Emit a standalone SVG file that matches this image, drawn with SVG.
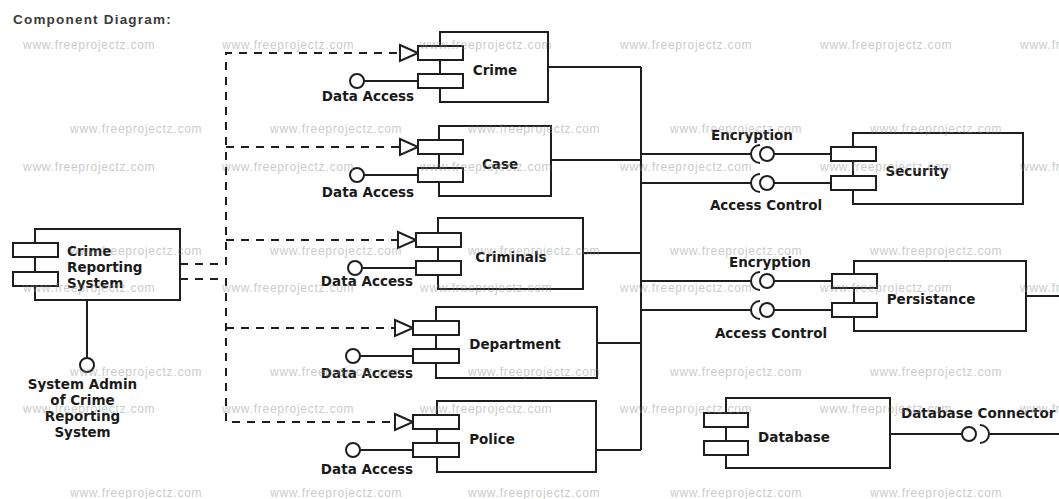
<svg xmlns="http://www.w3.org/2000/svg" width="1059" height="499" viewBox="0 0 1059 499">
<style>
.bx{fill:#fff;stroke:#1e1e1e;stroke-width:2}
.pt{fill:#fff;stroke:#1e1e1e;stroke-width:2}
.ln{fill:none;stroke:#1e1e1e;stroke-width:2}
.ds{fill:none;stroke:#1e1e1e;stroke-width:2;stroke-dasharray:8 7}
.ball{fill:#fff;stroke:#1e1e1e;stroke-width:2}
.lb{font-family:"DejaVu Sans",sans-serif;font-weight:bold;font-size:13.5px;fill:#1a1a1a}
.mid{text-anchor:middle}
.title{font-family:"Liberation Sans",Arial,sans-serif;font-weight:bold;font-size:13.5px;letter-spacing:1.2px;fill:#3a3a3a}
.wm{font-family:"Liberation Sans",Arial,sans-serif;font-size:12px;letter-spacing:0.75px;fill:#8c8c8c;opacity:0.45}
</style>
<rect width="1059" height="499" fill="#fff"/>
<text class="title" x="13" y="24">Component Diagram:</text>

<g id="connectors">
  <path class="ds" d="M180,264 H226 V53 H400"/>
  <path class="ds" d="M226,147 H400"/>
  <path class="ds" d="M226,240 H398"/>
  <path class="ds" d="M180,279 H226 V422 H395"/>
  <path class="ds" d="M226,328 H395"/>
  <path class="ln" d="M87,300 V358"/>
  <path class="ln" d="M364,81 H418 M364,175 H418 M362,268 H416 M360,356 H413 M360,450 H413"/>
  <path class="ln" d="M548,67 H641 M551,160 H641 M583,253 H641 M597,343 H641 M596,450 H641 M641,67 V450"/>
  <path class="ln" d="M641,154 H751 M774,154 H831 M641,183 H751 M774,183 H831"/>
  <path class="ln" d="M641,281 H751 M774,281 H832 M641,310 H751 M774,310 H832"/>
  <path class="ln" d="M1026,296 H1059"/>
  <path class="ln" d="M890,434 H962 M989,434 H1059"/>
  <path class="ln" d="M760,145 A9,9 0 0 0 760,163 M760,174 A9,9 0 0 0 760,192 M760,272 A9,9 0 0 0 760,290 M760,301 A9,9 0 0 0 760,319 M980,425 A9,9 0 0 1 980,443"/>
  <circle class="ball" cx="87" cy="365" r="7"/>
  <circle class="ball" cx="357" cy="81" r="7"/>
  <circle class="ball" cx="357" cy="175" r="7"/>
  <circle class="ball" cx="355" cy="268" r="7"/>
  <circle class="ball" cx="353" cy="356" r="7"/>
  <circle class="ball" cx="353" cy="450" r="7"/>
  <circle class="ball" cx="767" cy="154" r="7"/>
  <circle class="ball" cx="767" cy="183" r="7"/>
  <circle class="ball" cx="767" cy="281" r="7"/>
  <circle class="ball" cx="767" cy="310" r="7"/>
  <circle class="ball" cx="969" cy="434" r="7"/>
  <path class="pt" d="M400,45 L418,53 L400,61 Z"/>
  <path class="pt" d="M400,139 L418,147 L400,155 Z"/>
  <path class="pt" d="M398,232 L416,240 L398,248 Z"/>
  <path class="pt" d="M395,320 L413,328 L395,336 Z"/>
  <path class="pt" d="M395,414 L413,422 L395,430 Z"/>
  <text class="lb mid" x="368" y="101">Data Access</text>
  <text class="lb mid" x="368" y="197">Data Access</text>
  <text class="lb mid" x="367" y="286">Data Access</text>
  <text class="lb mid" x="367" y="378">Data Access</text>
  <text class="lb mid" x="367" y="474">Data Access</text>
  <text class="lb mid" x="752" y="140">Encryption</text>
  <text class="lb mid" x="766" y="210">Access Control</text>
  <text class="lb mid" x="770" y="267">Encryption</text>
  <text class="lb mid" x="771" y="338">Access Control</text>
  <text class="lb" x="901" y="418">Database Connector</text>
  <text class="lb mid" x="82.5" y="389">System Admin</text>
  <text class="lb mid" x="82.5" y="405">of Crime</text>
  <text class="lb mid" x="82.5" y="421">Reporting</text>
  <text class="lb mid" x="82.5" y="437">System</text>
</g>

<g id="crime-reporting-system">
  <rect class="bx" x="35" y="229" width="145" height="71"/>
  <rect class="pt" x="13" y="243" width="45" height="14"/>
  <rect class="pt" x="13" y="272" width="45" height="14"/>
  <text class="lb" x="67" y="256">Crime</text>
  <text class="lb" x="67" y="272">Reporting</text>
  <text class="lb" x="67" y="288">System</text>
</g>

<g id="crime">
  <rect class="bx" x="440" y="32" width="108" height="70"/>
  <rect class="pt" x="418" y="46" width="45" height="14"/>
  <rect class="pt" x="418" y="74" width="45" height="14"/>
  <text class="lb mid" x="495" y="75">Crime</text>
</g>

<g id="case">
  <rect class="bx" x="439" y="126" width="112" height="70"/>
  <rect class="pt" x="418" y="140" width="45" height="14"/>
  <rect class="pt" x="418" y="168" width="45" height="14"/>
  <text class="lb mid" x="500" y="169">Case</text>
</g>

<g id="criminals">
  <rect class="bx" x="438" y="218" width="145" height="71"/>
  <rect class="pt" x="416" y="233" width="45" height="14"/>
  <rect class="pt" x="416" y="261" width="45" height="14"/>
  <text class="lb mid" x="511" y="262">Criminals</text>
</g>

<g id="department">
  <rect class="bx" x="436" y="307" width="161" height="71"/>
  <rect class="pt" x="413" y="321" width="46" height="14"/>
  <rect class="pt" x="413" y="349" width="46" height="14"/>
  <text class="lb mid" x="515" y="349">Department</text>
</g>

<g id="police">
  <rect class="bx" x="437" y="401" width="159" height="71"/>
  <rect class="pt" x="413" y="415" width="46" height="14"/>
  <rect class="pt" x="413" y="443" width="46" height="14"/>
  <text class="lb mid" x="492" y="444">Police</text>
</g>

<g id="security">
  <rect class="bx" x="853" y="133" width="170" height="71"/>
  <rect class="pt" x="831" y="147" width="45" height="14"/>
  <rect class="pt" x="831" y="176" width="45" height="14"/>
  <text class="lb mid" x="917" y="176">Security</text>
</g>

<g id="persistance">
  <rect class="bx" x="854" y="261" width="172" height="70"/>
  <rect class="pt" x="832" y="274" width="45" height="14"/>
  <rect class="pt" x="832" y="303" width="45" height="14"/>
  <text class="lb mid" x="931" y="304">Persistance</text>
</g>

<g id="database">
  <rect class="bx" x="726" y="398" width="164" height="70"/>
  <rect class="pt" x="704" y="413" width="44" height="14"/>
  <rect class="pt" x="704" y="441" width="44" height="14"/>
  <text class="lb mid" x="794" y="442">Database</text>
</g>

<g id="watermarks">
  <text class="wm" x="23" y="49">www.freeprojectz.com</text>
  <text class="wm" x="222" y="49">www.freeprojectz.com</text>
  <text class="wm" x="420" y="49">www.freeprojectz.com</text>
  <text class="wm" x="620" y="49">www.freeprojectz.com</text>
  <text class="wm" x="820" y="49">www.freeprojectz.com</text>
  <text class="wm" x="1020" y="49">www.freeprojectz.com</text>
  <text class="wm" x="70" y="133">www.freeprojectz.com</text>
  <text class="wm" x="270" y="133">www.freeprojectz.com</text>
  <text class="wm" x="468" y="133">www.freeprojectz.com</text>
  <text class="wm" x="670" y="133">www.freeprojectz.com</text>
  <text class="wm" x="870" y="133">www.freeprojectz.com</text>
  <text class="wm" x="23" y="171">www.freeprojectz.com</text>
  <text class="wm" x="222" y="171">www.freeprojectz.com</text>
  <text class="wm" x="420" y="171">www.freeprojectz.com</text>
  <text class="wm" x="620" y="171">www.freeprojectz.com</text>
  <text class="wm" x="820" y="171">www.freeprojectz.com</text>
  <text class="wm" x="1020" y="171">www.freeprojectz.com</text>
  <text class="wm" x="70" y="255">www.freeprojectz.com</text>
  <text class="wm" x="270" y="255">www.freeprojectz.com</text>
  <text class="wm" x="468" y="255">www.freeprojectz.com</text>
  <text class="wm" x="670" y="255">www.freeprojectz.com</text>
  <text class="wm" x="870" y="255">www.freeprojectz.com</text>
  <text class="wm" x="23" y="292">www.freeprojectz.com</text>
  <text class="wm" x="222" y="292">www.freeprojectz.com</text>
  <text class="wm" x="420" y="292">www.freeprojectz.com</text>
  <text class="wm" x="620" y="292">www.freeprojectz.com</text>
  <text class="wm" x="820" y="292">www.freeprojectz.com</text>
  <text class="wm" x="1020" y="292">www.freeprojectz.com</text>
  <text class="wm" x="70" y="376">www.freeprojectz.com</text>
  <text class="wm" x="270" y="376">www.freeprojectz.com</text>
  <text class="wm" x="468" y="376">www.freeprojectz.com</text>
  <text class="wm" x="670" y="376">www.freeprojectz.com</text>
  <text class="wm" x="870" y="376">www.freeprojectz.com</text>
  <text class="wm" x="23" y="413">www.freeprojectz.com</text>
  <text class="wm" x="222" y="413">www.freeprojectz.com</text>
  <text class="wm" x="420" y="413">www.freeprojectz.com</text>
  <text class="wm" x="620" y="413">www.freeprojectz.com</text>
  <text class="wm" x="820" y="413">www.freeprojectz.com</text>
  <text class="wm" x="1020" y="413">www.freeprojectz.com</text>
  <text class="wm" x="70" y="497">www.freeprojectz.com</text>
  <text class="wm" x="270" y="497">www.freeprojectz.com</text>
  <text class="wm" x="468" y="497">www.freeprojectz.com</text>
  <text class="wm" x="670" y="497">www.freeprojectz.com</text>
  <text class="wm" x="870" y="497">www.freeprojectz.com</text>
</g>
</svg>
